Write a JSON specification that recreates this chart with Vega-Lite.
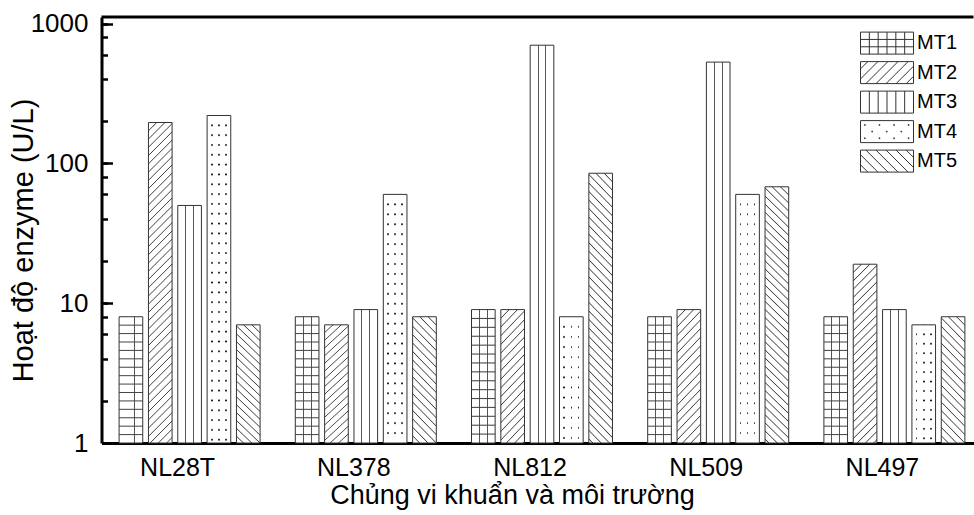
{
"$schema": "https://vega.github.io/schema/vega-lite/v6.json",
"width": 872, "height": 426,
"autosize": {"type": "none"},
"padding": {"left": 101.5, "top": 17, "right": 0, "bottom": 72},
"background": "white",
"config": {"view": {"stroke": null}, "font": "Liberation Sans"},
"resolve": {"axis": {"y": "independent"}},
"data": {"values": [
{"strain":"NL28T","mt":"MT1","value":8},{"strain":"NL28T","mt":"MT2","value":196},{"strain":"NL28T","mt":"MT3","value":50},{"strain":"NL28T","mt":"MT4","value":220},{"strain":"NL28T","mt":"MT5","value":7},
{"strain":"NL378","mt":"MT1","value":8},{"strain":"NL378","mt":"MT2","value":7},{"strain":"NL378","mt":"MT3","value":9},{"strain":"NL378","mt":"MT4","value":60},{"strain":"NL378","mt":"MT5","value":8},
{"strain":"NL812","mt":"MT1","value":9},{"strain":"NL812","mt":"MT2","value":9},{"strain":"NL812","mt":"MT3","value":700},{"strain":"NL812","mt":"MT4","value":8},{"strain":"NL812","mt":"MT5","value":85},
{"strain":"NL509","mt":"MT1","value":8},{"strain":"NL509","mt":"MT2","value":9},{"strain":"NL509","mt":"MT3","value":530},{"strain":"NL509","mt":"MT4","value":60},{"strain":"NL509","mt":"MT5","value":68},
{"strain":"NL497","mt":"MT1","value":8},{"strain":"NL497","mt":"MT2","value":19},{"strain":"NL497","mt":"MT3","value":9},{"strain":"NL497","mt":"MT4","value":7},{"strain":"NL497","mt":"MT5","value":8}
]},
"layer": [
{
"encoding": {
 "x": {"field": "strain", "type": "nominal", "sort": ["NL28T","NL378","NL812","NL509","NL497"], "title": "Chủng vi khuẩn và môi trường",
   "scale": {"range": [0, 881], "paddingInner": 0, "paddingOuter": 0},
   "axis": {"labelFontSize": 25, "labelColor": "black", "labelAngle": 0, "labelOffset": -12, "labelPadding": 32, "labelBaseline": "alphabetic", "ticks": false, "domainWidth": 3, "domainColor": "black", "grid": false,
     "titleFontSize": 27, "titleFontWeight": "normal", "titleColor": "black", "titleX": 410.5, "titleY": 60, "titleBaseline": "alphabetic", "titleAlign": "center"}},
 "xOffset": {"field": "mt", "type": "nominal", "sort": ["MT1","MT2","MT3","MT4","MT5"], "scale": {"paddingInner": 0.194, "paddingOuter": 0.6}},
 "y": {"field": "value", "type": "quantitative", "title": "Hoạt độ enzyme (U/L)",
   "scale": {"type": "log", "domain": [1, 1114], "nice": false},
   "axis": {"orient": "left", "values": [1,2,4,6,8,10,20,40,60,80,100,200,400,600,800,1000],
     "labelExpr": "(datum.value==1||datum.value==10||datum.value==100||datum.value==1000) ? datum.value+'' : ''",
     "labelFontSize": 26, "labelColor": "black", "labelPadding": 19.5, "labelOverlap": false, "labelBaseline": "middle",
     "tickSize": -6, "tickWidth": 2.5, "tickColor": "black", "domainWidth": 3, "domainColor": "black", "grid": false,
     "titleFontSize": 29, "titleFontWeight": "normal", "titleColor": "black", "titleX": -78, "titleY": 223, "titleBaseline": "middle", "titleAngle": -90, "titleAlign": "center"}}
},
"layer": [
{"mark": {"type": "bar", "strokeWidth": 0},
 "encoding": {"y2": {"datum": 1}, "fill": {"condition": [
  {"test": "datum.mt==='MT1'||datum.mt==='MT3'", "value": {"gradient":"linear","x1":0,"y1":0,"x2":1,"y2":0,"stops":[{"offset":0,"color":"#fff"},{"offset":0.313,"color":"#fff"},{"offset":0.313,"color":"#555"},{"offset":0.355,"color":"#555"},{"offset":0.355,"color":"#fff"},{"offset":0.645,"color":"#fff"},{"offset":0.645,"color":"#555"},{"offset":0.687,"color":"#555"},{"offset":0.687,"color":"#fff"},{"offset":1,"color":"#fff"}]}},
  {"test": "datum.mt==='MT4'", "value": {"gradient":"linear","x1":0,"y1":0,"x2":1,"y2":0,"stops":[{"offset":0.166,"color":"#fff"},{"offset":0.166,"color":"#111"},{"offset":0.234,"color":"#111"},{"offset":0.234,"color":"#fff"},{"offset":0.466,"color":"#fff"},{"offset":0.466,"color":"#111"},{"offset":0.534,"color":"#111"},{"offset":0.534,"color":"#fff"},{"offset":0.766,"color":"#fff"},{"offset":0.766,"color":"#111"},{"offset":0.834,"color":"#111"},{"offset":0.834,"color":"#fff"}]}},
  {"test": "datum.mt==='MT2'&&datum.value>100", "value": {"gradient":"linear","x1":0,"y1":0,"x2":0.079,"y2":1.068,"stops":[
{"offset":0.021,"color":"#fff"},{"offset":0.024,"color":"#444"},{"offset":0.027,"color":"#fff"},
{"offset":0.045,"color":"#fff"},{"offset":0.048,"color":"#444"},{"offset":0.051,"color":"#fff"},
{"offset":0.069,"color":"#fff"},{"offset":0.072,"color":"#444"},{"offset":0.075,"color":"#fff"},
{"offset":0.093,"color":"#fff"},{"offset":0.096,"color":"#444"},{"offset":0.099,"color":"#fff"},
{"offset":0.117,"color":"#fff"},{"offset":0.12,"color":"#444"},{"offset":0.123,"color":"#fff"},
{"offset":0.141,"color":"#fff"},{"offset":0.144,"color":"#444"},{"offset":0.147,"color":"#fff"},
{"offset":0.165,"color":"#fff"},{"offset":0.168,"color":"#444"},{"offset":0.171,"color":"#fff"},
{"offset":0.189,"color":"#fff"},{"offset":0.192,"color":"#444"},{"offset":0.195,"color":"#fff"},
{"offset":0.213,"color":"#fff"},{"offset":0.216,"color":"#444"},{"offset":0.219,"color":"#fff"},
{"offset":0.237,"color":"#fff"},{"offset":0.24,"color":"#444"},{"offset":0.243,"color":"#fff"},
{"offset":0.261,"color":"#fff"},{"offset":0.264,"color":"#444"},{"offset":0.267,"color":"#fff"},
{"offset":0.285,"color":"#fff"},{"offset":0.288,"color":"#444"},{"offset":0.291,"color":"#fff"},
{"offset":0.309,"color":"#fff"},{"offset":0.312,"color":"#444"},{"offset":0.315,"color":"#fff"},
{"offset":0.333,"color":"#fff"},{"offset":0.336,"color":"#444"},{"offset":0.339,"color":"#fff"},
{"offset":0.357,"color":"#fff"},{"offset":0.36,"color":"#444"},{"offset":0.363,"color":"#fff"},
{"offset":0.381,"color":"#fff"},{"offset":0.384,"color":"#444"},{"offset":0.387,"color":"#fff"},
{"offset":0.405,"color":"#fff"},{"offset":0.408,"color":"#444"},{"offset":0.411,"color":"#fff"},
{"offset":0.429,"color":"#fff"},{"offset":0.432,"color":"#444"},{"offset":0.435,"color":"#fff"},
{"offset":0.453,"color":"#fff"},{"offset":0.456,"color":"#444"},{"offset":0.459,"color":"#fff"},
{"offset":0.477,"color":"#fff"},{"offset":0.48,"color":"#444"},{"offset":0.483,"color":"#fff"},
{"offset":0.501,"color":"#fff"},{"offset":0.504,"color":"#444"},{"offset":0.507,"color":"#fff"},
{"offset":0.525,"color":"#fff"},{"offset":0.528,"color":"#444"},{"offset":0.531,"color":"#fff"},
{"offset":0.549,"color":"#fff"},{"offset":0.552,"color":"#444"},{"offset":0.555,"color":"#fff"},
{"offset":0.573,"color":"#fff"},{"offset":0.576,"color":"#444"},{"offset":0.579,"color":"#fff"},
{"offset":0.597,"color":"#fff"},{"offset":0.6,"color":"#444"},{"offset":0.603,"color":"#fff"},
{"offset":0.621,"color":"#fff"},{"offset":0.624,"color":"#444"},{"offset":0.627,"color":"#fff"},
{"offset":0.645,"color":"#fff"},{"offset":0.648,"color":"#444"},{"offset":0.651,"color":"#fff"},
{"offset":0.669,"color":"#fff"},{"offset":0.672,"color":"#444"},{"offset":0.675,"color":"#fff"},
{"offset":0.693,"color":"#fff"},{"offset":0.696,"color":"#444"},{"offset":0.699,"color":"#fff"},
{"offset":0.717,"color":"#fff"},{"offset":0.72,"color":"#444"},{"offset":0.723,"color":"#fff"},
{"offset":0.741,"color":"#fff"},{"offset":0.744,"color":"#444"},{"offset":0.747,"color":"#fff"},
{"offset":0.765,"color":"#fff"},{"offset":0.768,"color":"#444"},{"offset":0.771,"color":"#fff"},
{"offset":0.789,"color":"#fff"},{"offset":0.792,"color":"#444"},{"offset":0.795,"color":"#fff"},
{"offset":0.813,"color":"#fff"},{"offset":0.816,"color":"#444"},{"offset":0.819,"color":"#fff"},
{"offset":0.837,"color":"#fff"},{"offset":0.84,"color":"#444"},{"offset":0.843,"color":"#fff"},
{"offset":0.861,"color":"#fff"},{"offset":0.864,"color":"#444"},{"offset":0.867,"color":"#fff"},
{"offset":0.885,"color":"#fff"},{"offset":0.888,"color":"#444"},{"offset":0.891,"color":"#fff"},
{"offset":0.909,"color":"#fff"},{"offset":0.912,"color":"#444"},{"offset":0.915,"color":"#fff"},
{"offset":0.933,"color":"#fff"},{"offset":0.936,"color":"#444"},{"offset":0.939,"color":"#fff"},
{"offset":0.957,"color":"#fff"},{"offset":0.96,"color":"#444"},{"offset":0.963,"color":"#fff"},
{"offset":0.981,"color":"#fff"},{"offset":0.984,"color":"#444"},{"offset":0.987,"color":"#fff"}]}},
  {"test": "datum.mt==='MT2'&&datum.value>=10", "value": {"gradient":"linear","x1":0,"y1":0,"x2":0.1475,"y2":1.113,"stops":[
{"offset":0.0355,"color":"#fff"},{"offset":0.041,"color":"#444"},{"offset":0.0465,"color":"#fff"},
{"offset":0.0765,"color":"#fff"},{"offset":0.082,"color":"#444"},{"offset":0.0875,"color":"#fff"},
{"offset":0.1175,"color":"#fff"},{"offset":0.123,"color":"#444"},{"offset":0.1285,"color":"#fff"},
{"offset":0.1585,"color":"#fff"},{"offset":0.164,"color":"#444"},{"offset":0.1695,"color":"#fff"},
{"offset":0.1995,"color":"#fff"},{"offset":0.205,"color":"#444"},{"offset":0.2105,"color":"#fff"},
{"offset":0.2405,"color":"#fff"},{"offset":0.246,"color":"#444"},{"offset":0.2515,"color":"#fff"},
{"offset":0.2815,"color":"#fff"},{"offset":0.287,"color":"#444"},{"offset":0.2925,"color":"#fff"},
{"offset":0.3225,"color":"#fff"},{"offset":0.328,"color":"#444"},{"offset":0.3335,"color":"#fff"},
{"offset":0.3635,"color":"#fff"},{"offset":0.369,"color":"#444"},{"offset":0.3745,"color":"#fff"},
{"offset":0.4045,"color":"#fff"},{"offset":0.41,"color":"#444"},{"offset":0.4155,"color":"#fff"},
{"offset":0.4455,"color":"#fff"},{"offset":0.451,"color":"#444"},{"offset":0.4565,"color":"#fff"},
{"offset":0.4865,"color":"#fff"},{"offset":0.492,"color":"#444"},{"offset":0.4975,"color":"#fff"},
{"offset":0.5275,"color":"#fff"},{"offset":0.533,"color":"#444"},{"offset":0.5385,"color":"#fff"},
{"offset":0.5685,"color":"#fff"},{"offset":0.574,"color":"#444"},{"offset":0.5795,"color":"#fff"},
{"offset":0.6095,"color":"#fff"},{"offset":0.615,"color":"#444"},{"offset":0.6205,"color":"#fff"},
{"offset":0.6505,"color":"#fff"},{"offset":0.656,"color":"#444"},{"offset":0.6615,"color":"#fff"},
{"offset":0.6915,"color":"#fff"},{"offset":0.697,"color":"#444"},{"offset":0.7025,"color":"#fff"},
{"offset":0.7325,"color":"#fff"},{"offset":0.738,"color":"#444"},{"offset":0.7435,"color":"#fff"},
{"offset":0.7735,"color":"#fff"},{"offset":0.779,"color":"#444"},{"offset":0.7845,"color":"#fff"},
{"offset":0.8145,"color":"#fff"},{"offset":0.82,"color":"#444"},{"offset":0.8255,"color":"#fff"},
{"offset":0.8555,"color":"#fff"},{"offset":0.861,"color":"#444"},{"offset":0.8665,"color":"#fff"},
{"offset":0.8965,"color":"#fff"},{"offset":0.902,"color":"#444"},{"offset":0.9075,"color":"#fff"},
{"offset":0.9375,"color":"#fff"},{"offset":0.943,"color":"#444"},{"offset":0.9485,"color":"#fff"},
{"offset":0.9785,"color":"#fff"},{"offset":0.984,"color":"#444"},{"offset":0.9895,"color":"#fff"}]}},
  {"test": "datum.mt==='MT2'", "value": {"gradient":"linear","x1":0,"y1":0,"x2":0.2122,"y2":1.1459,"stops":[
{"offset":0.048,"color":"#fff"},{"offset":0.055,"color":"#444"},{"offset":0.062,"color":"#fff"},
{"offset":0.103,"color":"#fff"},{"offset":0.11,"color":"#444"},{"offset":0.117,"color":"#fff"},
{"offset":0.158,"color":"#fff"},{"offset":0.165,"color":"#444"},{"offset":0.172,"color":"#fff"},
{"offset":0.213,"color":"#fff"},{"offset":0.22,"color":"#444"},{"offset":0.227,"color":"#fff"},
{"offset":0.268,"color":"#fff"},{"offset":0.275,"color":"#444"},{"offset":0.282,"color":"#fff"},
{"offset":0.323,"color":"#fff"},{"offset":0.33,"color":"#444"},{"offset":0.337,"color":"#fff"},
{"offset":0.378,"color":"#fff"},{"offset":0.385,"color":"#444"},{"offset":0.392,"color":"#fff"},
{"offset":0.433,"color":"#fff"},{"offset":0.44,"color":"#444"},{"offset":0.447,"color":"#fff"},
{"offset":0.488,"color":"#fff"},{"offset":0.495,"color":"#444"},{"offset":0.502,"color":"#fff"},
{"offset":0.543,"color":"#fff"},{"offset":0.55,"color":"#444"},{"offset":0.557,"color":"#fff"},
{"offset":0.598,"color":"#fff"},{"offset":0.605,"color":"#444"},{"offset":0.612,"color":"#fff"},
{"offset":0.653,"color":"#fff"},{"offset":0.66,"color":"#444"},{"offset":0.667,"color":"#fff"},
{"offset":0.708,"color":"#fff"},{"offset":0.715,"color":"#444"},{"offset":0.722,"color":"#fff"},
{"offset":0.763,"color":"#fff"},{"offset":0.77,"color":"#444"},{"offset":0.777,"color":"#fff"},
{"offset":0.818,"color":"#fff"},{"offset":0.825,"color":"#444"},{"offset":0.832,"color":"#fff"},
{"offset":0.873,"color":"#fff"},{"offset":0.88,"color":"#444"},{"offset":0.887,"color":"#fff"},
{"offset":0.928,"color":"#fff"},{"offset":0.935,"color":"#444"},{"offset":0.942,"color":"#fff"},
{"offset":0.983,"color":"#fff"},{"offset":0.99,"color":"#444"},{"offset":0.997,"color":"#fff"}]}},
  {"test": "datum.mt==='MT5'&&datum.value>=50", "value": {"gradient":"linear","x1":1,"y1":0,"x2":0.9025,"y2":1.0814,"stops":[
{"offset":0.025,"color":"#fff"},{"offset":0.029,"color":"#444"},{"offset":0.033,"color":"#fff"},
{"offset":0.054,"color":"#fff"},{"offset":0.058,"color":"#444"},{"offset":0.062,"color":"#fff"},
{"offset":0.083,"color":"#fff"},{"offset":0.087,"color":"#444"},{"offset":0.091,"color":"#fff"},
{"offset":0.112,"color":"#fff"},{"offset":0.116,"color":"#444"},{"offset":0.12,"color":"#fff"},
{"offset":0.141,"color":"#fff"},{"offset":0.145,"color":"#444"},{"offset":0.149,"color":"#fff"},
{"offset":0.17,"color":"#fff"},{"offset":0.174,"color":"#444"},{"offset":0.178,"color":"#fff"},
{"offset":0.199,"color":"#fff"},{"offset":0.203,"color":"#444"},{"offset":0.207,"color":"#fff"},
{"offset":0.228,"color":"#fff"},{"offset":0.232,"color":"#444"},{"offset":0.236,"color":"#fff"},
{"offset":0.257,"color":"#fff"},{"offset":0.261,"color":"#444"},{"offset":0.265,"color":"#fff"},
{"offset":0.286,"color":"#fff"},{"offset":0.29,"color":"#444"},{"offset":0.294,"color":"#fff"},
{"offset":0.315,"color":"#fff"},{"offset":0.319,"color":"#444"},{"offset":0.323,"color":"#fff"},
{"offset":0.344,"color":"#fff"},{"offset":0.348,"color":"#444"},{"offset":0.352,"color":"#fff"},
{"offset":0.373,"color":"#fff"},{"offset":0.377,"color":"#444"},{"offset":0.381,"color":"#fff"},
{"offset":0.402,"color":"#fff"},{"offset":0.406,"color":"#444"},{"offset":0.41,"color":"#fff"},
{"offset":0.431,"color":"#fff"},{"offset":0.435,"color":"#444"},{"offset":0.439,"color":"#fff"},
{"offset":0.46,"color":"#fff"},{"offset":0.464,"color":"#444"},{"offset":0.468,"color":"#fff"},
{"offset":0.489,"color":"#fff"},{"offset":0.493,"color":"#444"},{"offset":0.497,"color":"#fff"},
{"offset":0.518,"color":"#fff"},{"offset":0.522,"color":"#444"},{"offset":0.526,"color":"#fff"},
{"offset":0.547,"color":"#fff"},{"offset":0.551,"color":"#444"},{"offset":0.555,"color":"#fff"},
{"offset":0.576,"color":"#fff"},{"offset":0.58,"color":"#444"},{"offset":0.584,"color":"#fff"},
{"offset":0.605,"color":"#fff"},{"offset":0.609,"color":"#444"},{"offset":0.613,"color":"#fff"},
{"offset":0.634,"color":"#fff"},{"offset":0.638,"color":"#444"},{"offset":0.642,"color":"#fff"},
{"offset":0.663,"color":"#fff"},{"offset":0.667,"color":"#444"},{"offset":0.671,"color":"#fff"},
{"offset":0.692,"color":"#fff"},{"offset":0.696,"color":"#444"},{"offset":0.7,"color":"#fff"},
{"offset":0.721,"color":"#fff"},{"offset":0.725,"color":"#444"},{"offset":0.729,"color":"#fff"},
{"offset":0.75,"color":"#fff"},{"offset":0.754,"color":"#444"},{"offset":0.758,"color":"#fff"},
{"offset":0.779,"color":"#fff"},{"offset":0.783,"color":"#444"},{"offset":0.787,"color":"#fff"},
{"offset":0.808,"color":"#fff"},{"offset":0.812,"color":"#444"},{"offset":0.816,"color":"#fff"},
{"offset":0.837,"color":"#fff"},{"offset":0.841,"color":"#444"},{"offset":0.845,"color":"#fff"},
{"offset":0.866,"color":"#fff"},{"offset":0.87,"color":"#444"},{"offset":0.874,"color":"#fff"},
{"offset":0.895,"color":"#fff"},{"offset":0.899,"color":"#444"},{"offset":0.903,"color":"#fff"},
{"offset":0.924,"color":"#fff"},{"offset":0.928,"color":"#444"},{"offset":0.932,"color":"#fff"},
{"offset":0.953,"color":"#fff"},{"offset":0.957,"color":"#444"},{"offset":0.961,"color":"#fff"},
{"offset":0.982,"color":"#fff"},{"offset":0.986,"color":"#444"},{"offset":0.99,"color":"#fff"}]}}
 ],
 "value": {"gradient":"linear","x1":1,"y1":0,"x2":0.7804,"y2":1.1491,"stops":[
{"offset":0.0485,"color":"#fff"},{"offset":0.056,"color":"#444"},{"offset":0.0635,"color":"#fff"},
{"offset":0.1045,"color":"#fff"},{"offset":0.112,"color":"#444"},{"offset":0.1195,"color":"#fff"},
{"offset":0.1605,"color":"#fff"},{"offset":0.168,"color":"#444"},{"offset":0.1755,"color":"#fff"},
{"offset":0.2165,"color":"#fff"},{"offset":0.224,"color":"#444"},{"offset":0.2315,"color":"#fff"},
{"offset":0.2725,"color":"#fff"},{"offset":0.28,"color":"#444"},{"offset":0.2875,"color":"#fff"},
{"offset":0.3285,"color":"#fff"},{"offset":0.336,"color":"#444"},{"offset":0.3435,"color":"#fff"},
{"offset":0.3845,"color":"#fff"},{"offset":0.392,"color":"#444"},{"offset":0.3995,"color":"#fff"},
{"offset":0.4405,"color":"#fff"},{"offset":0.448,"color":"#444"},{"offset":0.4555,"color":"#fff"},
{"offset":0.4965,"color":"#fff"},{"offset":0.504,"color":"#444"},{"offset":0.5115,"color":"#fff"},
{"offset":0.5525,"color":"#fff"},{"offset":0.56,"color":"#444"},{"offset":0.5675,"color":"#fff"},
{"offset":0.6085,"color":"#fff"},{"offset":0.616,"color":"#444"},{"offset":0.6235,"color":"#fff"},
{"offset":0.6645,"color":"#fff"},{"offset":0.672,"color":"#444"},{"offset":0.6795,"color":"#fff"},
{"offset":0.7205,"color":"#fff"},{"offset":0.728,"color":"#444"},{"offset":0.7355,"color":"#fff"},
{"offset":0.7765,"color":"#fff"},{"offset":0.784,"color":"#444"},{"offset":0.7915,"color":"#fff"},
{"offset":0.8325,"color":"#fff"},{"offset":0.84,"color":"#444"},{"offset":0.8475,"color":"#fff"},
{"offset":0.8885,"color":"#fff"},{"offset":0.896,"color":"#444"},{"offset":0.9035,"color":"#fff"},
{"offset":0.9445,"color":"#fff"},{"offset":0.952,"color":"#444"},{"offset":0.9595,"color":"#fff"}]}
 }}},
{"mark": {"type": "bar", "stroke": "#333", "strokeWidth": 1},
 "encoding": {"y2": {"datum": 1}, "fill": {"condition": [
  {"test": "datum.mt==='MT1'", "value": {"gradient":"linear","x1":0,"y1":0,"x2":0,"y2":1,"stops":[
{"offset":0.0587,"color":"rgba(68,68,68,0)"},{"offset":0.0667,"color":"#444"},{"offset":0.0747,"color":"rgba(68,68,68,0)"},
{"offset":0.1253,"color":"rgba(68,68,68,0)"},{"offset":0.1333,"color":"#444"},{"offset":0.1413,"color":"rgba(68,68,68,0)"},
{"offset":0.192,"color":"rgba(68,68,68,0)"},{"offset":0.2,"color":"#444"},{"offset":0.208,"color":"rgba(68,68,68,0)"},
{"offset":0.2587,"color":"rgba(68,68,68,0)"},{"offset":0.2667,"color":"#444"},{"offset":0.2747,"color":"rgba(68,68,68,0)"},
{"offset":0.3253,"color":"rgba(68,68,68,0)"},{"offset":0.3333,"color":"#444"},{"offset":0.3413,"color":"rgba(68,68,68,0)"},
{"offset":0.392,"color":"rgba(68,68,68,0)"},{"offset":0.4,"color":"#444"},{"offset":0.408,"color":"rgba(68,68,68,0)"},
{"offset":0.4587,"color":"rgba(68,68,68,0)"},{"offset":0.4667,"color":"#444"},{"offset":0.4747,"color":"rgba(68,68,68,0)"},
{"offset":0.5253,"color":"rgba(68,68,68,0)"},{"offset":0.5333,"color":"#444"},{"offset":0.5413,"color":"rgba(68,68,68,0)"},
{"offset":0.592,"color":"rgba(68,68,68,0)"},{"offset":0.6,"color":"#444"},{"offset":0.608,"color":"rgba(68,68,68,0)"},
{"offset":0.6587,"color":"rgba(68,68,68,0)"},{"offset":0.6667,"color":"#444"},{"offset":0.6747,"color":"rgba(68,68,68,0)"},
{"offset":0.7253,"color":"rgba(68,68,68,0)"},{"offset":0.7333,"color":"#444"},{"offset":0.7413,"color":"rgba(68,68,68,0)"},
{"offset":0.792,"color":"rgba(68,68,68,0)"},{"offset":0.8,"color":"#444"},{"offset":0.808,"color":"rgba(68,68,68,0)"},
{"offset":0.8587,"color":"rgba(68,68,68,0)"},{"offset":0.8667,"color":"#444"},{"offset":0.8747,"color":"rgba(68,68,68,0)"},
{"offset":0.9253,"color":"rgba(68,68,68,0)"},{"offset":0.9333,"color":"#444"},{"offset":0.9413,"color":"rgba(68,68,68,0)"}]}},
  {"test": "datum.mt==='MT4'&&datum.value>100", "value": {"gradient":"linear","x1":0,"y1":0,"x2":0,"y2":1,"stops":[
{"offset":0.0255,"color":"#fff"},{"offset":0.03,"color":"rgba(255,255,255,0)"},{"offset":0.0345,"color":"#fff"},
{"offset":0.0555,"color":"#fff"},{"offset":0.06,"color":"rgba(255,255,255,0)"},{"offset":0.0645,"color":"#fff"},
{"offset":0.0855,"color":"#fff"},{"offset":0.09,"color":"rgba(255,255,255,0)"},{"offset":0.0945,"color":"#fff"},
{"offset":0.1155,"color":"#fff"},{"offset":0.12,"color":"rgba(255,255,255,0)"},{"offset":0.1245,"color":"#fff"},
{"offset":0.1455,"color":"#fff"},{"offset":0.15,"color":"rgba(255,255,255,0)"},{"offset":0.1545,"color":"#fff"},
{"offset":0.1755,"color":"#fff"},{"offset":0.18,"color":"rgba(255,255,255,0)"},{"offset":0.1845,"color":"#fff"},
{"offset":0.2055,"color":"#fff"},{"offset":0.21,"color":"rgba(255,255,255,0)"},{"offset":0.2145,"color":"#fff"},
{"offset":0.2355,"color":"#fff"},{"offset":0.24,"color":"rgba(255,255,255,0)"},{"offset":0.2445,"color":"#fff"},
{"offset":0.2655,"color":"#fff"},{"offset":0.27,"color":"rgba(255,255,255,0)"},{"offset":0.2745,"color":"#fff"},
{"offset":0.2955,"color":"#fff"},{"offset":0.3,"color":"rgba(255,255,255,0)"},{"offset":0.3045,"color":"#fff"},
{"offset":0.3255,"color":"#fff"},{"offset":0.33,"color":"rgba(255,255,255,0)"},{"offset":0.3345,"color":"#fff"},
{"offset":0.3555,"color":"#fff"},{"offset":0.36,"color":"rgba(255,255,255,0)"},{"offset":0.3645,"color":"#fff"},
{"offset":0.3855,"color":"#fff"},{"offset":0.39,"color":"rgba(255,255,255,0)"},{"offset":0.3945,"color":"#fff"},
{"offset":0.4155,"color":"#fff"},{"offset":0.42,"color":"rgba(255,255,255,0)"},{"offset":0.4245,"color":"#fff"},
{"offset":0.4455,"color":"#fff"},{"offset":0.45,"color":"rgba(255,255,255,0)"},{"offset":0.4545,"color":"#fff"},
{"offset":0.4755,"color":"#fff"},{"offset":0.48,"color":"rgba(255,255,255,0)"},{"offset":0.4845,"color":"#fff"},
{"offset":0.5055,"color":"#fff"},{"offset":0.51,"color":"rgba(255,255,255,0)"},{"offset":0.5145,"color":"#fff"},
{"offset":0.5355,"color":"#fff"},{"offset":0.54,"color":"rgba(255,255,255,0)"},{"offset":0.5445,"color":"#fff"},
{"offset":0.5655,"color":"#fff"},{"offset":0.57,"color":"rgba(255,255,255,0)"},{"offset":0.5745,"color":"#fff"},
{"offset":0.5955,"color":"#fff"},{"offset":0.6,"color":"rgba(255,255,255,0)"},{"offset":0.6045,"color":"#fff"},
{"offset":0.6255,"color":"#fff"},{"offset":0.63,"color":"rgba(255,255,255,0)"},{"offset":0.6345,"color":"#fff"},
{"offset":0.6555,"color":"#fff"},{"offset":0.66,"color":"rgba(255,255,255,0)"},{"offset":0.6645,"color":"#fff"},
{"offset":0.6855,"color":"#fff"},{"offset":0.69,"color":"rgba(255,255,255,0)"},{"offset":0.6945,"color":"#fff"},
{"offset":0.7155,"color":"#fff"},{"offset":0.72,"color":"rgba(255,255,255,0)"},{"offset":0.7245,"color":"#fff"},
{"offset":0.7455,"color":"#fff"},{"offset":0.75,"color":"rgba(255,255,255,0)"},{"offset":0.7545,"color":"#fff"},
{"offset":0.7755,"color":"#fff"},{"offset":0.78,"color":"rgba(255,255,255,0)"},{"offset":0.7845,"color":"#fff"},
{"offset":0.8055,"color":"#fff"},{"offset":0.81,"color":"rgba(255,255,255,0)"},{"offset":0.8145,"color":"#fff"},
{"offset":0.8355,"color":"#fff"},{"offset":0.84,"color":"rgba(255,255,255,0)"},{"offset":0.8445,"color":"#fff"},
{"offset":0.8655,"color":"#fff"},{"offset":0.87,"color":"rgba(255,255,255,0)"},{"offset":0.8745,"color":"#fff"},
{"offset":0.8955,"color":"#fff"},{"offset":0.9,"color":"rgba(255,255,255,0)"},{"offset":0.9045,"color":"#fff"},
{"offset":0.9255,"color":"#fff"},{"offset":0.93,"color":"rgba(255,255,255,0)"},{"offset":0.9345,"color":"#fff"},
{"offset":0.9555,"color":"#fff"},{"offset":0.96,"color":"rgba(255,255,255,0)"},{"offset":0.9645,"color":"#fff"},
{"offset":0.9855,"color":"#fff"},{"offset":0.99,"color":"rgba(255,255,255,0)"},{"offset":0.9945,"color":"#fff"}]}},
  {"test": "datum.mt==='MT4'&&datum.value>=50", "value": {"gradient":"linear","x1":0,"y1":0,"x2":0,"y2":1,"stops":[
{"offset":0.034,"color":"#fff"},{"offset":0.04,"color":"rgba(255,255,255,0)"},{"offset":0.046,"color":"#fff"},
{"offset":0.074,"color":"#fff"},{"offset":0.08,"color":"rgba(255,255,255,0)"},{"offset":0.086,"color":"#fff"},
{"offset":0.114,"color":"#fff"},{"offset":0.12,"color":"rgba(255,255,255,0)"},{"offset":0.126,"color":"#fff"},
{"offset":0.154,"color":"#fff"},{"offset":0.16,"color":"rgba(255,255,255,0)"},{"offset":0.166,"color":"#fff"},
{"offset":0.194,"color":"#fff"},{"offset":0.2,"color":"rgba(255,255,255,0)"},{"offset":0.206,"color":"#fff"},
{"offset":0.234,"color":"#fff"},{"offset":0.24,"color":"rgba(255,255,255,0)"},{"offset":0.246,"color":"#fff"},
{"offset":0.274,"color":"#fff"},{"offset":0.28,"color":"rgba(255,255,255,0)"},{"offset":0.286,"color":"#fff"},
{"offset":0.314,"color":"#fff"},{"offset":0.32,"color":"rgba(255,255,255,0)"},{"offset":0.326,"color":"#fff"},
{"offset":0.354,"color":"#fff"},{"offset":0.36,"color":"rgba(255,255,255,0)"},{"offset":0.366,"color":"#fff"},
{"offset":0.394,"color":"#fff"},{"offset":0.4,"color":"rgba(255,255,255,0)"},{"offset":0.406,"color":"#fff"},
{"offset":0.434,"color":"#fff"},{"offset":0.44,"color":"rgba(255,255,255,0)"},{"offset":0.446,"color":"#fff"},
{"offset":0.474,"color":"#fff"},{"offset":0.48,"color":"rgba(255,255,255,0)"},{"offset":0.486,"color":"#fff"},
{"offset":0.514,"color":"#fff"},{"offset":0.52,"color":"rgba(255,255,255,0)"},{"offset":0.526,"color":"#fff"},
{"offset":0.554,"color":"#fff"},{"offset":0.56,"color":"rgba(255,255,255,0)"},{"offset":0.566,"color":"#fff"},
{"offset":0.594,"color":"#fff"},{"offset":0.6,"color":"rgba(255,255,255,0)"},{"offset":0.606,"color":"#fff"},
{"offset":0.634,"color":"#fff"},{"offset":0.64,"color":"rgba(255,255,255,0)"},{"offset":0.646,"color":"#fff"},
{"offset":0.674,"color":"#fff"},{"offset":0.68,"color":"rgba(255,255,255,0)"},{"offset":0.686,"color":"#fff"},
{"offset":0.714,"color":"#fff"},{"offset":0.72,"color":"rgba(255,255,255,0)"},{"offset":0.726,"color":"#fff"},
{"offset":0.754,"color":"#fff"},{"offset":0.76,"color":"rgba(255,255,255,0)"},{"offset":0.766,"color":"#fff"},
{"offset":0.794,"color":"#fff"},{"offset":0.8,"color":"rgba(255,255,255,0)"},{"offset":0.806,"color":"#fff"},
{"offset":0.834,"color":"#fff"},{"offset":0.84,"color":"rgba(255,255,255,0)"},{"offset":0.846,"color":"#fff"},
{"offset":0.874,"color":"#fff"},{"offset":0.88,"color":"rgba(255,255,255,0)"},{"offset":0.886,"color":"#fff"},
{"offset":0.914,"color":"#fff"},{"offset":0.92,"color":"rgba(255,255,255,0)"},{"offset":0.926,"color":"#fff"},
{"offset":0.954,"color":"#fff"},{"offset":0.96,"color":"rgba(255,255,255,0)"},{"offset":0.966,"color":"#fff"}]}},
  {"test": "datum.mt==='MT4'", "value": {"gradient":"linear","x1":0,"y1":0,"x2":0,"y2":1,"stops":[
{"offset":0.068,"color":"#fff"},{"offset":0.08,"color":"rgba(255,255,255,0)"},{"offset":0.092,"color":"#fff"},
{"offset":0.148,"color":"#fff"},{"offset":0.16,"color":"rgba(255,255,255,0)"},{"offset":0.172,"color":"#fff"},
{"offset":0.228,"color":"#fff"},{"offset":0.24,"color":"rgba(255,255,255,0)"},{"offset":0.252,"color":"#fff"},
{"offset":0.308,"color":"#fff"},{"offset":0.32,"color":"rgba(255,255,255,0)"},{"offset":0.332,"color":"#fff"},
{"offset":0.388,"color":"#fff"},{"offset":0.4,"color":"rgba(255,255,255,0)"},{"offset":0.412,"color":"#fff"},
{"offset":0.468,"color":"#fff"},{"offset":0.48,"color":"rgba(255,255,255,0)"},{"offset":0.492,"color":"#fff"},
{"offset":0.548,"color":"#fff"},{"offset":0.56,"color":"rgba(255,255,255,0)"},{"offset":0.572,"color":"#fff"},
{"offset":0.628,"color":"#fff"},{"offset":0.64,"color":"rgba(255,255,255,0)"},{"offset":0.652,"color":"#fff"},
{"offset":0.708,"color":"#fff"},{"offset":0.72,"color":"rgba(255,255,255,0)"},{"offset":0.732,"color":"#fff"},
{"offset":0.788,"color":"#fff"},{"offset":0.8,"color":"rgba(255,255,255,0)"},{"offset":0.812,"color":"#fff"},
{"offset":0.868,"color":"#fff"},{"offset":0.88,"color":"rgba(255,255,255,0)"},{"offset":0.892,"color":"#fff"},
{"offset":0.948,"color":"#fff"},{"offset":0.96,"color":"rgba(255,255,255,0)"},{"offset":0.972,"color":"#fff"}]}}
 ],
 "value": "transparent"}}},
{"mark": {"type": "point", "opacity": 0},
 "encoding": {"shape": {"field": "mt", "type": "nominal",
   "scale": {"domain": ["MT1","MT2","MT3","MT4","MT5"], "range": [
     "M-2.65,-1.1H2.65V1.1H-2.65ZM-1.767,-1.1V1.1M-0.883,-1.1V1.1M0,-1.1V1.1M0.883,-1.1V1.1M1.767,-1.1V1.1M-2.65,-0.367H2.65M-2.65,0.367H2.65",
     "M-2.65,-1.1H2.65V1.1H-2.65ZM-1.921,-1.1L-2.65,-0.371M-0.914,-1.1L-2.65,0.636M0.093,-1.1L-2.107,1.1M1.1,-1.1L-1.1,1.1M2.107,-1.1L-0.093,1.1M2.65,-0.636L0.914,1.1M2.65,0.371L1.921,1.1",
     "M-2.65,-1.1H2.65V1.1H-2.65ZM-1.767,-1.1V1.1M-0.883,-1.1V1.1M0,-1.1V1.1M0.883,-1.1V1.1M1.767,-1.1V1.1",
     "M-2.65,-1.1H2.65V1.1H-2.65ZM-2.25,-0.702h0.08v0.08h-0.08zM-0.795,-0.702h0.08v0.08h-0.08zM0.663,-0.702h0.08v0.08h-0.08zM2.12,-0.702h0.08v0.08h-0.08zM-1.524,-0.04h0.08v0.08h-0.08zM-0.066,-0.04h0.08v0.08h-0.08zM1.391,-0.04h0.08v0.08h-0.08zM-2.25,0.623h0.08v0.08h-0.08zM-0.795,0.623h0.08v0.08h-0.08zM0.663,0.623h0.08v0.08h-0.08zM2.12,0.623h0.08v0.08h-0.08z",
     "M-2.65,-1.1H2.65V1.1H-2.65ZM1.921,-1.1L2.65,-0.371M0.914,-1.1L2.65,0.636M-0.093,-1.1L2.107,1.1M-1.1,-1.1L1.1,1.1M-2.107,-1.1L0.093,1.1M-2.65,-0.636L-0.914,1.1M-2.65,0.371L-1.921,1.1"]},
   "legend": {"title": null, "orient": "none", "legendX": 775, "legendY": 15.6, "padding": 0,
     "symbolSize": 400, "symbolStrokeWidth": 1, "symbolStrokeColor": "#333", "symbolFillColor": "#fff", "symbolOpacity": 1,
     "labelFontSize": 20, "labelColor": "black", "labelOffset": 19.5, "rowPadding": 2.5,
     "encode": {"symbols": {"update": {"fill": {"value": "#fff"}, "stroke": {"value": "#333"}, "opacity": {"value": 1}, "strokeWidth": {"value": 1}}}}}}}}
]
},
{"data": {"values": [{}]},
 "mark": {"type": "rule", "strokeWidth": 3, "color": "black"},
 "encoding": {"y": {"datum": 1114, "type": "quantitative",
   "axis": {"orient": "left", "values": [1,10,100,1000], "labels": false, "domain": false, "title": null, "tickSize": -11, "tickWidth": 2.5, "tickColor": "black", "grid": false}}}}
]
}
